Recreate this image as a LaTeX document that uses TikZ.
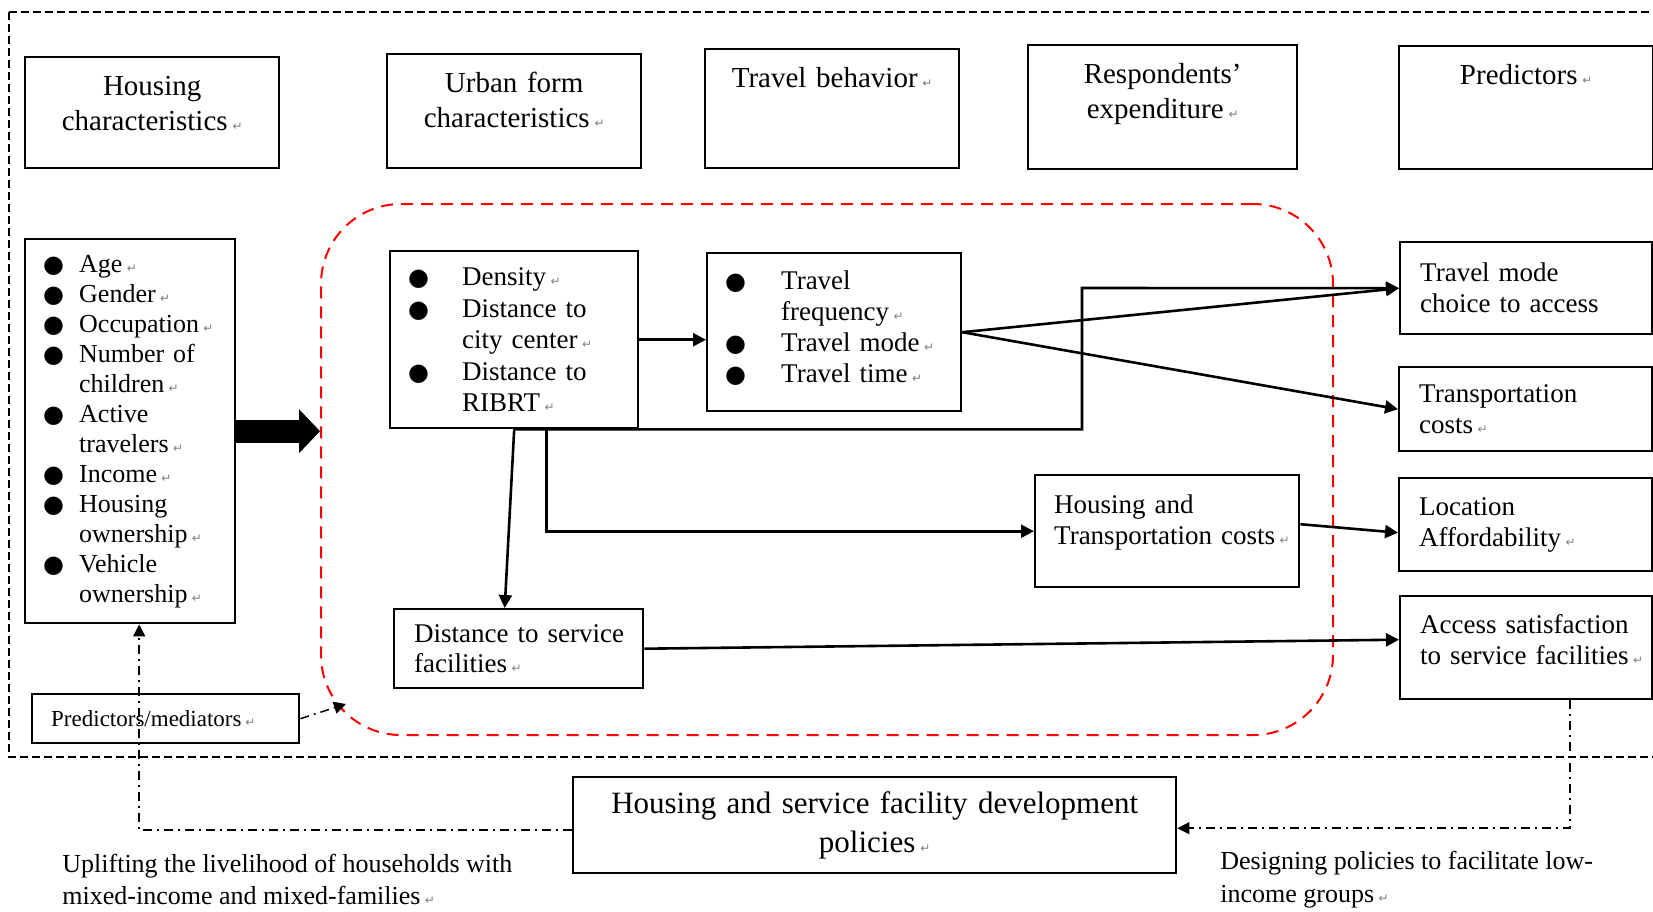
\documentclass[tikz,border=0pt]{standalone}
\usepackage{fontspec}
\setmainfont{Liberation Serif}
\newfontfamily\symfont{DejaVu Sans}
\usetikzlibrary{arrows.meta,calc}

\lefthyphenmin=62
\newlength\bulw
\newcommand\pmark{\,{\symfont\fontsize{6}{6}\selectfont\color{gray}↵}}
\newcommand\bul{\makebox[\bulw][l]{\symfont\fontsize{12}{12}\selectfont ●}}
\newcommand\ind{\hspace*{\bulw}}

\tikzset{
    box/.style={draw, line width=1.2pt, inner sep=0pt, anchor=north west},
    headbox/.style={box, align=center, text height=19pt,
        font=\fontsize{14.5}{17.5}\selectfont},
    sidebox/.style={box, align=left, inner xsep=10pt,
        font=\fontsize{13.5}{15.5}\selectfont},
    listbox/.style={box, align=left,
        execute at begin node={\setlength{\bulw}{#1}}},
    conn/.style={line width=1.3pt, -{Triangle[length=6.5pt,width=6.5pt]}},
    bigarrow/.style={line width=11.5pt, -{Triangle[length=10.5pt,width=22pt,line width=0pt]}},
    dashdot/.style={line width=0.75pt, dash pattern=on 4.5pt off 2.5pt on 1pt off 2.5pt,
        -{Triangle[length=6pt,width=6pt]}},
    redzone/.style={draw=red, line width=1pt, dash pattern=on 6pt off 4pt,
        rounded corners=40pt, inner sep=0pt, anchor=north west},
    note/.style={align=left, inner sep=0pt, anchor=north west}
}

\begin{document}
\begin{tikzpicture}[x=0.5pt, y=-0.5pt]
        \path[use as bounding box, clip] (0,0) rectangle (1653,911);
        % 外层虚线框
        \draw[line width=0.8pt, dash pattern=on 4pt off 2pt] (9,12) rectangle (1680,757);
        % 红色虚线区域
        \node[redzone, minimum width=506pt, minimum height=265.5pt] (zone) at (320,203) {};
        % 顶部标题框
        \node[headbox, text width=127pt, text depth=36.5pt] (hous) at (24,56) {Housing\\characteristics\pmark};
        \node[headbox, text width=127pt, text depth=38pt] (urbh) at (386,53) {Urban form\\characteristics\pmark};
        \node[headbox, text width=127pt, text depth=40.5pt] (trvh) at (704,48) {Travel behavior\pmark};
        \node[headbox, text width=134.5pt, text depth=43pt] (resp) at (1027,44) {Respondents’\\expenditure\pmark};
        \node[headbox, text width=127pt, text depth=42.5pt] (pred) at (1398,45) {Predictors\pmark};
        % 列表框
        \node[listbox=18pt, inner xsep=9pt, text width=87pt, minimum height=192pt,
            font=\fontsize{13}{15}\selectfont] (items) at (24,238) {%
            \bul Age\pmark\\
            \bul Gender\pmark\\
            \bul Occupation\pmark\\
            \bul Number of\\
            \ind children\pmark\\
            \bul Active\\
            \ind travelers\pmark\\
            \bul Income\pmark\\
            \bul Housing\\
            \ind ownership\pmark\\
            \bul Vehicle\\
            \ind ownership\pmark};
        \node[listbox=27pt, inner xsep=9pt, text width=106pt, minimum height=88.5pt,
            font=\fontsize{13.5}{15.75}\selectfont] (urb) at (389,250) {%
            \bul Density\pmark\\
            \bul Distance to\\
            \ind city center\pmark\\
            \bul Distance to\\
            \ind RIBRT\pmark};
        \node[listbox=28pt, inner xsep=9pt, text width=109pt, text height=18pt, text depth=61pt,
            font=\fontsize{13.5}{15.5}\selectfont] (trv) at (706,252) {%
            \bul Travel\\
            \ind frequency\pmark\\
            \bul Travel mode\pmark\\
            \bul Travel time\pmark};
        % 右侧结果框
        \node[sidebox, text width=106pt, minimum height=46pt] (mode) at (1399,241) {Travel mode\\choice to access};
        \node[sidebox, text width=106.5pt, minimum height=42pt] (trans) at (1398,366) {Transportation\\costs\pmark};
        \node[sidebox, text width=106.5pt, minimum height=46.5pt] (loc) at (1398,477) {Location\\Affordability\pmark};
        \node[sidebox, text width=106pt, text height=18.5pt, text depth=33pt] (acc) at (1399,595) {Access~satisfaction\\to~service~facilities\pmark};
        % 中间的框
        \node[sidebox, inner xsep=9.5pt, text width=113pt, text height=19pt, text depth=37pt] (ht) at (1034,474) {Housing and\\Transportation~costs\pmark};
        \node[sidebox, text width=104.5pt, minimum height=39.5pt,
            font=\fontsize{13.5}{15}\selectfont] (svc) at (393,608) {Distance~to~service\\facilities\pmark};
        \node[sidebox, inner xsep=9.5pt, text width=114.5pt, minimum height=24.5pt,
            font=\fontsize{11.5}{13}\selectfont] (pm) at (31,693) {Predictors/mediators\pmark};
        \node[box, align=center, text width=301.5pt, minimum height=48pt,
            font=\fontsize{15.5}{19.5}\selectfont] (pol) at (572,776) {Housing and service facility development\\policies\pmark};
        % 底部说明
        \node[note, font=\fontsize{13}{16}\selectfont] (capl) at (62,854) {Uplifting the livelihood of households with\\mixed-income and mixed-families\pmark};
        \node[note, font=\fontsize{13}{16.5}\selectfont] (capr) at (1220,851) {Designing policies to facilitate low-\\income groups\pmark};
        % 箭头
        \draw[bigarrow] (items.east) -- (items.east -| zone.west);
        \draw[conn] (urb.east) -- (urb.east -| trv.west);
        \draw[conn] (trv.east) -- (mode.west);
        \draw[conn] (trv.east) -- (trans.west);
        \coordinate (bend) at (1082,288);
        \draw[conn] (urb.south) -| (bend) -- (mode.west);
        \draw[conn] (urb.south) -- ([xshift=-7pt]svc.north);
        \draw[conn] ([xshift=16pt]urb.south) |- (ht.west);
        \draw[conn] ($(ht.east)+(0,-7)$) -- ($(loc.west)+(0,8)$);
        \draw[conn] (svc.east) -- ($(acc.west)+(0,-8)$);
        % 点划线
        \coordinate (zonetip) at (346,704);
        \draw[dashdot] (pm.east) -- (zonetip);
        \draw[dashdot] ([yshift=-2.5pt]pol.west) -| ([xshift=4.5pt]items.south);
        \draw[dashdot] ([xshift=22pt]acc.south) |- ([yshift=-1.5pt]pol.east);
\end{tikzpicture}
\end{document}
